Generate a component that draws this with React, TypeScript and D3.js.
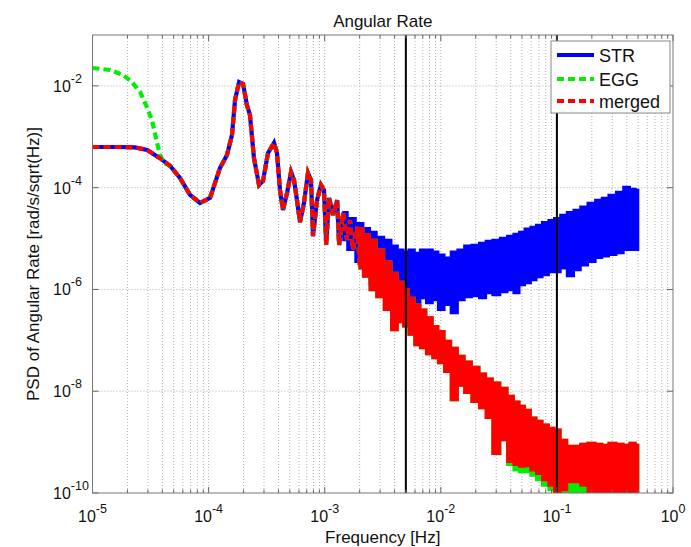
import React from 'react';
import * as d3 from 'd3';

// ---------------- data ----------------
// Low-frequency part of STR (also used by "merged")
const strLowFreq = [1.0e-5, 1.72e-5, 2.32e-5, 2.95e-5, 3.81e-5];
const strLowPsd = [6.3e-4, 6.3e-4, 6.2e-4, 5.5e-4, 3.8e-4];

// Low-frequency part of EGG
const eggLowFreq = [1.0e-5, 1.42e-5, 1.83e-5, 2.19e-5, 2.57e-5, 2.89e-5, 3.25e-5, 3.52e-5, 3.81e-5, 4.13e-5];
const eggLowPsd = [2.25e-2, 2.05e-2, 1.64e-2, 1.19e-2, 7.6e-3, 4.2e-3, 2.14e-3, 9.5e-4, 4.4e-4, 3.05e-4];

// Common part of all three series (oscillating region)
const sharedFreq = [
  4.65e-5, 5.67e-5, 6.92e-5, 8.43e-5, 1.03e-4, 1.25e-4, 1.44e-4, 1.59e-4, 1.69e-4, 1.83e-4,
  1.98e-4, 2.14e-4, 2.27e-4, 2.46e-4, 2.72e-4, 2.94e-4, 3.25e-4, 3.66e-4, 3.88e-4, 4.12e-4,
  4.37e-4, 4.74e-4, 5.13e-4, 5.44e-4, 5.77e-4, 6.13e-4, 6.63e-4, 7.18e-4, 7.62e-4, 7.93e-4,
  8.59e-4, 9.29e-4, 9.86e-4, 1.03e-3, 1.09e-3, 1.18e-3, 1.28e-3, 1.33e-3, 1.44e-3, 1.56e-3,
  1.65e-3, 1.75e-3, 1.90e-3, 2.01e-3,
];
const sharedPsd = [
  2.7e-4, 1.55e-4, 7.2e-5, 5.0e-5, 6.3e-5, 2.4e-4, 4.4e-4, 1.08e-3, 5.3e-3, 1.19e-2,
  1.09e-2, 4.2e-3, 2.7e-3, 3.8e-4, 1.13e-4, 1.35e-4, 4.8e-4, 7.6e-4, 4.8e-4, 9.0e-5,
  3.65e-5, 7.9e-5, 2.03e-4, 1.42e-4, 5.7e-5, 2.1e-5, 5.0e-5, 1.94e-4, 1.42e-4, 1.12e-5,
  5.7e-5, 1.13e-4, 9.0e-5, 7.5e-6, 6.3e-5, 2.9e-5, 5.7e-5, 7.5e-6, 3.2e-5, 9.4e-6,
  2.3e-5, 6.0e-6, 1.7e-5, 3.0e-6,
];

// Noisy high-frequency region: upper / lower envelopes
const eggBandFreq = [
  2.0e-3, 2.3e-3, 2.6e-3, 3.0e-3, 3.5e-3, 4.0e-3, 4.5e-3, 5.0e-3, 5.6e-3, 6.3e-3,
  7.0e-3, 8.0e-3, 9.0e-3, 1.0e-2, 1.15e-2, 1.3e-2, 1.5e-2, 1.7e-2, 2.0e-2, 2.3e-2,
  2.6e-2, 3.0e-2, 3.5e-2, 4.0e-2, 4.5e-2, 5.0e-2, 5.6e-2, 6.3e-2, 7.0e-2, 8.0e-2,
  9.0e-2, 0.1, 0.115, 0.13, 0.15, 0.17, 0.2, 0.23, 0.26, 0.3,
  0.35, 0.4, 0.45, 0.5,
];
const eggBandHi = [
  1.6e-5, 1.2e-5, 9.4e-6, 6.0e-6, 3.5e-6, 2.1e-6, 1.4e-6, 1.0e-6, 6.8e-7, 5.0e-7,
  4.0e-7, 2.8e-7, 1.9e-7, 1.5e-7, 9.7e-8, 7.1e-8, 4.9e-8, 3.8e-8, 3.0e-8, 2.2e-8,
  1.75e-8, 1.46e-8, 1.16e-8, 8.1e-9, 6.2e-9, 5.1e-9, 4.3e-9, 3.0e-9, 2.6e-9, 2.2e-9,
  1.9e-9, 1.74e-9, 1.1e-9, 8.4e-10, 8.4e-10, 9.2e-10, 9.6e-10, 9.2e-10, 8.8e-10, 9.6e-10,
  9.2e-10, 8.8e-10, 9.6e-10, 8.8e-10,
];
const eggBandLo = [
  2.6e-6, 1.8e-6, 9.8e-7, 7.1e-7, 4.0e-7, 1.6e-7, 2.3e-7, 1.9e-7, 1.3e-7, 8.1e-8,
  7.1e-8, 5.4e-8, 4.5e-8, 3.6e-8, 2.4e-8, 6.7e-9, 1.3e-8, 9.3e-9, 6.2e-9, 4.7e-9,
  3.0e-9, 5.9e-10, 1.1e-9, 3.6e-10, 2.8e-10, 2.6e-10, 2.6e-10, 2.2e-10, 1.8e-10, 1.4e-10,
  1.15e-10, 9e-11, 8e-11, 8e-11, 8e-11, 8e-11, 7e-11, 7e-11, 7e-11, 7e-11,
  7e-11, 7e-11, 7e-11, 7e-11,
];
const mergedBandLo = [
  2.6e-6, 1.8e-6, 9.8e-7, 7.1e-7, 4.0e-7, 1.6e-7, 2.3e-7, 1.9e-7, 1.3e-7, 8.1e-8,
  7.1e-8, 5.4e-8, 4.5e-8, 3.6e-8, 2.4e-8, 6.7e-9, 1.3e-8, 9.3e-9, 6.2e-9, 4.7e-9,
  3.0e-9, 5.9e-10, 1.1e-9, 4.1e-10, 3.6e-10, 3.3e-10, 3.4e-10, 2.8e-10, 2.4e-10, 1.8e-10,
  1.4e-10, 9e-11, 1.15e-10, 1.65e-10, 1.65e-10, 1.4e-10, 9e-11, 7e-11, 7e-11, 7e-11,
  7e-11, 7e-11, 7e-11, 7e-11,
];

const strBandFreq = [1.45e-3, 1.7e-3, ...eggBandFreq];
const strBandHi = [
  3.3e-5, 2.5e-5, 2.0e-5, 1.6e-5, 1.35e-5, 1.07e-5, 9.4e-6, 7.2e-6, 6.0e-6, 5.5e-6,
  6.0e-6, 5.2e-6, 6.0e-6, 6.0e-6, 5.5e-6, 4.8e-6, 4.2e-6, 5.5e-6, 6.0e-6, 7.2e-6,
  7.5e-6, 8.2e-6, 9.0e-6, 9.4e-6, 1.03e-5, 1.12e-5, 1.23e-5, 1.35e-5, 1.55e-5, 1.69e-5,
  1.85e-5, 2.1e-5, 2.3e-5, 2.5e-5, 2.9e-5, 3.3e-5, 3.65e-5, 4.2e-5, 5.0e-5, 5.7e-5,
  6.3e-5, 7.2e-5, 8.2e-5, 1.03e-4, 9.4e-5, 9.0e-5,
];
const strBandLo = [
  9.4e-6, 6.0e-6, 3.5e-6, 1.9e-6, 1.3e-6, 8.5e-7, 8.9e-7, 7.8e-7, 6.8e-7, 6.2e-7,
  4.7e-7, 4.5e-7, 6.8e-7, 5.4e-7, 6.2e-7, 4.0e-7, 5.0e-7, 3.45e-7, 6.2e-7, 7.1e-7,
  7.4e-7, 6.8e-7, 8.5e-7, 7.8e-7, 8.9e-7, 9.8e-7, 8.5e-7, 1.22e-6, 1.34e-6, 1.54e-6,
  1.76e-6, 1.93e-6, 2.2e-6, 2.2e-6, 2.6e-6, 1.84e-6, 2.4e-6, 3.0e-6, 3.5e-6, 4.2e-6,
  4.5e-6, 4.8e-6, 5.2e-6, 6.0e-6, 6.0e-6, 6.0e-6,
];

// Marker lines (Hz)
const markerFreqs = [5e-3, 0.1];

// Axis ticks
const xTickExps = [-5, -4, -3, -2, -1, 0];
const yTickExps = [-10, -8, -6, -4, -2];

const seriesNames = ['STR', 'EGG', 'merged'];
const seriesColors = ['#0000ff', '#00ee00', '#ff0000'];

// ---------------- chart ----------------
const W = 691;
const H = 547;
const PL = 92.5, PR = 673, PT = 35, PB = 493;
const FONT = '"Liberation Sans", Arial, Helvetica, sans-serif';

type Pt = [number, number];
type BandPt = { f: number; hi: number; lo: number };

const zip = (f: number[], v: number[]): Pt[] => f.map((ff, i) => [ff, v[i]] as Pt);
const zipBand = (f: number[], hi: number[], lo: number[]): BandPt[] =>
  f.map((ff, i) => ({ f: ff, hi: hi[i], lo: lo[i] }));

export default function App() {
  const x = d3.scaleLog().domain([1e-5, 1]).range([PL, PR]);
  const y = d3.scaleLog().domain([1e-10, 1e-1]).range([PB, PT]);

  const line = d3.line<Pt>().x((d) => x(d[0])).y((d) => y(d[1]));
  const area = d3
    .area<BandPt>()
    .x((d) => x(d.f))
    .y0((d) => y(d.lo))
    .y1((d) => y(d.hi))
    .curve(d3.curveStep);

  const strLine = [...zip(strLowFreq, strLowPsd), ...zip(sharedFreq, sharedPsd)];
  const eggLine = [...zip(eggLowFreq, eggLowPsd), ...zip(sharedFreq, sharedPsd)];
  const mergedLine = [...zip(strLowFreq, strLowPsd), ...zip(sharedFreq, sharedPsd)];

  const strBand = zipBand(strBandFreq, strBandHi, strBandLo);
  const eggBand = zipBand(eggBandFreq, eggBandHi, eggBandLo);
  const mergedBand = zipBand(eggBandFreq, eggBandHi, mergedBandLo);

  const xGrid = x.ticks().filter((t) => t > 1e-5 * 1.001 && t < 0.999);
  const xMajor = xTickExps.map((e) => Math.pow(10, e));
  const yMajor = yTickExps.map((e) => Math.pow(10, e));
  const yGrid = yMajor.filter((t) => t > 1e-10 * 1.001);

  const isMajor = (t: number) => Math.abs(Math.log10(t) - Math.round(Math.log10(t))) < 1e-6;

  const lw = 4.2;
  const dash = '7,4';

  const legendY = [55, 79, 101];

  return (
    <svg
      width={W}
      height={H}
      viewBox={`0 0 ${W} ${H}`}
      style={{ position: 'absolute', left: 0, top: 0, background: '#fff' }}
      fontFamily={FONT}
    >
      <defs>
        <clipPath id="plotClip">
          <rect x={PL} y={PT} width={PR - PL} height={PB - PT} />
        </clipPath>
      </defs>
      <rect x={0} y={0} width={W} height={H} fill="#fff" />

      {/* grid */}
      <g stroke="#b0b0b0" strokeWidth={1} strokeDasharray="1,2">
        {xGrid.map((t, i) => (
          <line key={'xg' + i} x1={x(t)} x2={x(t)} y1={PT} y2={PB} />
        ))}
        {yGrid.map((t, i) => (
          <line key={'yg' + i} x1={PL} x2={PR} y1={y(t)} y2={y(t)} />
        ))}
      </g>

      {/* data */}
      <g clipPath="url(#plotClip)" strokeLinejoin="miter">
        {/* STR */}
        <path d={line(strLine) || ''} fill="none" stroke={seriesColors[0]} strokeWidth={lw} />
        <path d={area(strBand) || ''} fill={seriesColors[0]} stroke={seriesColors[0]} strokeWidth={2.5} />
        {/* EGG */}
        <path
          d={line(eggLine) || ''}
          fill="none"
          stroke={seriesColors[1]}
          strokeWidth={lw}
          strokeDasharray={dash}
        />
        <path d={area(eggBand) || ''} fill={seriesColors[1]} stroke={seriesColors[1]} strokeWidth={2.5} />
        {/* merged */}
        <path
          d={line(mergedLine) || ''}
          fill="none"
          stroke={seriesColors[2]}
          strokeWidth={lw}
          strokeDasharray={dash}
        />
        <path d={area(mergedBand) || ''} fill={seriesColors[2]} stroke={seriesColors[2]} strokeWidth={2.5} />
      </g>

      {/* marker lines */}
      {markerFreqs.map((f, i) => (
        <line key={'m' + i} x1={x(f)} x2={x(f)} y1={PT} y2={PB} stroke="#000" strokeWidth={2} />
      ))}

      {/* ticks */}
      <g stroke="#666" strokeWidth={1}>
        {x.ticks().map((t, i) => {
          const len = isMajor(t) ? 6 : 3.5;
          return (
            <g key={'xt' + i}>
              <line x1={x(t)} x2={x(t)} y1={PB} y2={PB - len} />
              <line x1={x(t)} x2={x(t)} y1={PT} y2={PT + len} />
            </g>
          );
        })}
        {yMajor.map((t, i) => (
          <g key={'yt' + i}>
            <line x1={PL} x2={PL + 6} y1={y(t)} y2={y(t)} />
            <line x1={PR} x2={PR - 6} y1={y(t)} y2={y(t)} />
          </g>
        ))}
      </g>

      {/* frame */}
      <rect x={PL} y={PT} width={PR - PL} height={PB - PT} fill="none" stroke="#777" strokeWidth={1} />

      {/* x tick labels */}
      {xTickExps.map((e, i) => (
        <text key={'xl' + i} x={x(xMajor[i])} y={522} textAnchor="middle" fontSize={16} fill="#111">
          <tspan>10</tspan>
          <tspan fontSize={12.5} dy={-9}>
            {String(e)}
          </tspan>
        </text>
      ))}

      {/* y tick labels */}
      {yTickExps.map((e, i) => (
        <text key={'yl' + i} x={53} y={y(yMajor[i]) + 6} textAnchor="start" fontSize={16} fill="#111">
          <tspan>10</tspan>
          <tspan fontSize={12.5} dy={-9}>
            {String(e)}
          </tspan>
        </text>
      ))}

      {/* titles */}
      <text x={(PL + PR) / 2} y={27} textAnchor="middle" fontSize={17} fill="#111">
        Angular Rate
      </text>
      <text x={(PL + PR) / 2} y={543} textAnchor="middle" fontSize={17} fill="#111">
        Frequency [Hz]
      </text>
      <text
        transform={`translate(39, ${(PT + PB) / 2}) rotate(-90)`}
        textAnchor="middle"
        fontSize={17}
        fill="#111"
      >
        PSD of Angular Rate [rad/s/sqrt(Hz)]
      </text>

      {/* legend */}
      <g>
        <rect x={551} y={41} width={119} height={72} fill="#fff" stroke="#888" strokeWidth={1} />
        {seriesNames.map((n, i) => (
          <g key={'lg' + i}>
            <line
              x1={557}
              x2={594}
              y1={legendY[i]}
              y2={legendY[i]}
              stroke={seriesColors[i]}
              strokeWidth={lw}
              strokeDasharray={i === 0 ? undefined : dash}
            />
            <text x={599} y={legendY[i] + 6.5} fontSize={18} fill="#111">
              {n}
            </text>
          </g>
        ))}
      </g>
    </svg>
  );
}
